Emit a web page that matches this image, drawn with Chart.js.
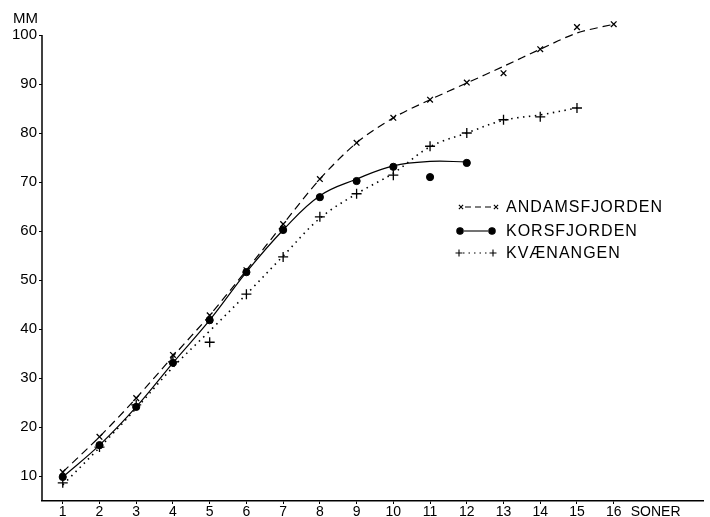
<!DOCTYPE html>
<html>
<head>
<meta charset="utf-8">
<script src="https://cdn.jsdelivr.net/npm/chart.js@4.4.0/dist/chart.umd.min.js"></script>
<style>
  html, body { margin: 0; padding: 0; background: #fff; }
  #wrap { width: 710px; height: 517px; }
</style>
</head>
<body>
<div id="wrap"><canvas id="growth"></canvas></div>
<script>
// zones (SONER) on the x axis, length in mm on the y axis
const zoneTicks = [1, 2, 3, 4, 5, 6, 7, 8, 9, 10, 11, 12, 13, 14, 15, 16];
const mmTicks = [10, 20, 30, 40, 50, 60, 70, 80, 90, 100];

const andamsZones = [1, 2, 3, 4, 5, 6, 7, 8, 9, 10, 11, 12, 13, 14, 15, 16];
const andamsMm = [10.8, 18.0, 25.9, 34.7, 42.8, 52.0, 61.4, 70.6, 78.0, 83.1, 86.8, 90.3, 92.2, 97.1, 101.6, 102.2];
// hand drawn dashed curve
const andamsCurveMm = [10.8, 18.0, 25.9, 34.4, 42.8, 52.0, 61.4, 70.6, 78.0, 83.1, 86.8, 90.2, 93.6, 97.1, 100.4, 102.2];

const korsZones = [1, 2, 3, 4, 5, 6, 7, 8, 9, 10, 11, 12];
const korsMm = [9.8, 16.3, 24.1, 33.1, 41.8, 51.6, 60.2, 66.9, 70.2, 73.1, 71.0, 73.9];
const korsCurveMm = [9.8, 16.3, 24.1, 33.1, 41.8, 51.6, 60.2, 67.2, 70.6, 73.3, 74.2, 74.1];

const kvaenZones = [1, 2, 3, 4, 5, 6, 7, 8, 9, 10, 11, 12, 13, 14, 15];
const kvaenMm = [8.6, 15.9, 24.5, 33.3, 37.3, 47.1, 54.7, 62.9, 67.6, 71.4, 77.3, 80.0, 82.7, 83.3, 85.1];
const kvaenCurveMm = [8.2, 15.8, 23.8, 32.2, 39.6, 47.1, 54.9, 62.6, 67.6, 71.8, 77.2, 80.0, 82.6, 83.7, 85.1];

const seriesNames = ["ANDAMSFJORDEN", "KORSFJORDEN", "KVÆNANGEN"];

const FONT = "'Liberation Sans', Arial, sans-serif";
const toXY = (xs, ys) => ys.map((v, i) => ({ x: xs[i], y: v }));

const ctx = document.getElementById("growth").getContext("2d");

// y axis line only up to 100, plus the MM and SONER words
const axisWords = {
  id: "axisWords",
  afterDraw(chart) {
    const c = chart.ctx;
    const xs = chart.scales.x;
    const ys = chart.scales.y;
    c.save();
    c.strokeStyle = "#000";
    c.lineWidth = 1.5;
    c.beginPath();
    c.moveTo(chart.chartArea.left, ys.getPixelForValue(100));
    c.lineTo(chart.chartArea.left, chart.chartArea.bottom);
    c.stroke();
    c.fillStyle = "#000";
    c.font = "15px " + FONT;
    c.textBaseline = "alphabetic";
    c.textAlign = "left";
    c.fillText("MM", 13, 23);
    c.font = "14px " + FONT;
    c.textBaseline = "middle";
    c.fillText("SONER", xs.getPixelForValue(16) + 17, 512);
    c.restore();
  },
};

// legend placed inside the plot, like the drawing
const insideLegend = {
  id: "insideLegend",
  afterDatasetsDraw(chart) {
    const c = chart.ctx;
    const rows = [
      { y: 207, dash: [6, 4], style: "crossRot", r: 3, x1: 461, x2: 496 },
      { y: 231, dash: [], style: "circle", r: 3.2, x1: 460, x2: 492 },
      { y: 253, dash: [1.5, 4], style: "cross", r: 3.5, x1: 459, x2: 493 },
    ];
    c.save();
    c.strokeStyle = "#000";
    c.fillStyle = "#000";
    rows.forEach((row, i) => {
      c.lineWidth = 1.1;
      c.setLineDash(row.dash);
      c.beginPath();
      c.moveTo(row.x1 + 4, row.y);
      c.lineTo(row.x2 - 4, row.y);
      c.stroke();
      c.setLineDash([]);
      [row.x1, row.x2].forEach((px) => {
        Chart.helpers.drawPoint(c, { pointStyle: row.style, radius: row.r, borderWidth: 1.2, rotation: 0 }, px, row.y);
      });
      c.font = "16px " + FONT;
      c.letterSpacing = "1px";
      c.textAlign = "left";
      c.textBaseline = "middle";
      c.fillText(seriesNames[i], 506, row.y + 1);
      c.letterSpacing = "0px";
    });
    c.restore();
  },
};

const config = {
  type: "line",
  data: {
    datasets: [
      {
        label: "andams curve",
        data: toXY(andamsZones, andamsCurveMm),
        borderColor: "#000",
        borderWidth: 1.2,
        borderDash: [8, 5],
        tension: 0.3,
        pointRadius: 0,
        clip: false,
      },
      {
        label: seriesNames[0],
        data: toXY(andamsZones, andamsMm),
        showLine: false,
        pointStyle: "crossRot",
        pointRadius: 4,
        pointBorderWidth: 1.3,
        pointBorderColor: "#000",
        clip: false,
      },
      {
        label: "kors curve",
        data: toXY(korsZones, korsCurveMm),
        borderColor: "#000",
        borderWidth: 1.2,
        tension: 0.4,
        pointRadius: 0,
        clip: false,
      },
      {
        label: seriesNames[1],
        data: toXY(korsZones, korsMm),
        showLine: false,
        pointStyle: "circle",
        pointRadius: 3.6,
        pointBackgroundColor: "#000",
        pointBorderColor: "#000",
        clip: false,
      },
      {
        label: "kvaen curve",
        data: toXY(kvaenZones, kvaenCurveMm),
        borderColor: "#000",
        borderWidth: 1.6,
        borderDash: [1.5, 4.5],
        tension: 0.35,
        pointRadius: 0,
        clip: false,
      },
      {
        label: seriesNames[2],
        data: toXY(kvaenZones, kvaenMm),
        showLine: false,
        pointStyle: "cross",
        pointRadius: 5,
        pointBorderWidth: 1.3,
        pointBorderColor: "#000",
        clip: false,
      },
    ],
  },
  options: {
    responsive: true,
    maintainAspectRatio: false,
    animation: false,
    layout: { padding: { top: 20.3, right: 5, left: 0, bottom: 0 } },
    plugins: {
      legend: { display: false },
      tooltip: { enabled: false },
    },
    scales: {
      x: {
        type: "linear",
        min: 0.435,
        max: 18.45,
        afterBuildTicks: (s) => { s.ticks = zoneTicks.map((v) => ({ value: v })); },
        afterFit: (s) => { s.height = 16; },
        border: { color: "#000", width: 1.5 },
        grid: { drawOnChartArea: false, tickLength: 3, color: "#000" },
        ticks: {
          color: "#000",
          padding: 0,
          autoSkip: false,
          maxRotation: 0,
          font: { family: FONT, size: 14 },
        },
      },
      y: {
        min: 4.9,
        max: 103,
        afterBuildTicks: (s) => { s.ticks = mmTicks.map((v) => ({ value: v })); },
        afterFit: (s) => { s.width = 42; },
        border: { display: false },
        grid: { drawOnChartArea: false, tickLength: 3, color: "#000" },
        ticks: {
          color: "#000",
          padding: 2,
          font: { family: FONT, size: 15 },
        },
      },
    },
  },
  plugins: [axisWords, insideLegend],
};

new Chart(ctx, config);
</script>
</body>
</html>
